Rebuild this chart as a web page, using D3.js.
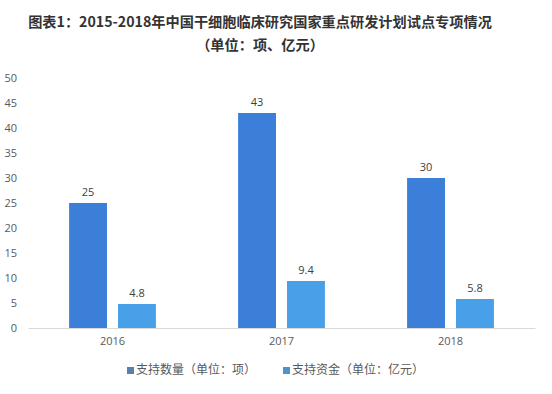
<!DOCTYPE html>
<html>
<head>
<meta charset="utf-8">
<script src="https://cdn.jsdelivr.net/npm/d3@7"></script>
<style>
  body { margin: 0; background: #fff; }
  svg { display: block; font-family: "Microsoft YaHei", "Noto Sans CJK SC", sans-serif; }
</style>
</head>
<body>
<div id="chart"></div>
<script>
// Grouped bars: count of projects vs funding per year.

const YEARS = ["2016", "2017", "2018"];
const SERIES = ["count", "funds"];
const SERIES_LABELS = ["支持数量（单位：项）", "支持资金（单位：亿元）"];
const COUNT = [25, 43, 30];
const FUNDS = [4.8, 9.4, 5.8];
const Y_TICKS = [0, 5, 10, 15, 20, 25, 30, 35, 40, 45, 50];

const BAR_COLORS = { count: "#3b7fd9", funds: "#47a0e8" };
const LEGEND_COLORS = ["#5a7fa8", "#4f92cc"];

const W = 552, H = 394;
const margin = { top: 78, right: 17, bottom: 66, left: 28 };
const innerW = W - margin.left - margin.right;
const innerH = H - margin.top - margin.bottom;

const rows = YEARS.map((y, i) => ({ year: y, count: COUNT[i], funds: FUNDS[i] }));

const svg = d3.select("#chart").append("svg").attr("width", W).attr("height", H);

// ── Title ───────────────────────────────────────────────────────────────────
const title = svg.append("text")
  .attr("x", 260).attr("text-anchor", "middle")
  .style("font-size", "14.2px").style("font-weight", "bold").style("fill", "#333");
title.append("tspan").attr("x", 260).attr("y", 27)
  .text("图表1：2015-2018年中国干细胞临床研究国家重点研发计划试点专项情况");
title.append("tspan").attr("x", 260).attr("y", 50).text("（单位：项、亿元）");

const g = svg.append("g").attr("transform", `translate(${margin.left},${margin.top})`);

const x0 = d3.scaleBand().domain(YEARS).range([0, innerW]).padding(0);
const x1 = d3.scaleBand().domain(SERIES).range([0, x0.bandwidth()])
  .paddingInner(0.225).paddingOuter(0.84);
const y = d3.scaleLinear().domain([0, 50]).range([innerH, 0]);

// y axis labels only
g.append("g")
  .call(d3.axisLeft(y).tickValues(Y_TICKS).tickSize(0).tickPadding(11))
  .call(ax => ax.select(".domain").remove())
  .selectAll("text")
  .style("font-size", "11px").style("fill", "#595959")
  .style("font-family", "\"Open Sans\", sans-serif");

// x axis
g.append("g").attr("transform", `translate(0,${innerH})`)
  .call(d3.axisBottom(x0).tickSize(0).tickPadding(9))
  .call(ax => ax.select(".domain").attr("stroke", "#d9d9d9"))
  .selectAll("text")
  .style("font-size", "11px").style("fill", "#595959")
  .style("font-family", "\"Open Sans\", sans-serif");

// bars
const groups = g.append("g").selectAll("g").data(rows).join("g")
  .attr("transform", d => `translate(${x0(d.year)},0)`);

groups.selectAll("rect").data(d => SERIES.map(k => ({ key: k, value: d[k] }))).join("rect")
  .attr("x", d => x1(d.key)).attr("width", x1.bandwidth())
  .attr("y", d => y(d.value)).attr("height", d => innerH - y(d.value))
  .attr("fill", d => BAR_COLORS[d.key]);

groups.selectAll("text.val").data(d => SERIES.map(k => ({ key: k, value: d[k] }))).join("text")
  .attr("class", "val")
  .attr("x", d => x1(d.key) + x1.bandwidth() / 2).attr("y", d => y(d.value) - 7)
  .attr("text-anchor", "middle")
  .style("font-size", "11px").style("fill", "#404040")
  .style("font-family", "\"Open Sans\", sans-serif")
  .text(d => d.value);

// legend
const legendX = [127, 283];
SERIES_LABELS.forEach((label, i) => {
  const lg = svg.append("g").attr("transform", `translate(${legendX[i]},371)`);
  lg.append("rect").attr("x", 0).attr("y", -4).attr("width", 7).attr("height", 7)
    .attr("fill", LEGEND_COLORS[i]);
  lg.append("text").attr("x", 9).attr("y", 0).attr("dominant-baseline", "middle")
    .style("font-size", "12px").style("fill", "#595959").text(label);
});
</script>
</body>
</html>
